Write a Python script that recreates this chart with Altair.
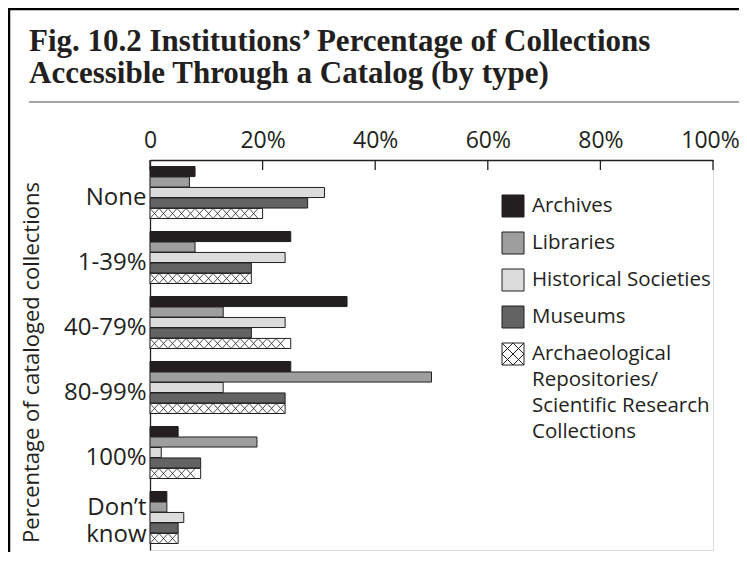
import altair as alt
import pandas as pd

# ---- data ----
categories = ["None", "1-39%", "40-79%", "80-99%", "100%", "Don’t\nknow"]
types = [
    "Archives",
    "Libraries",
    "Historical Societies",
    "Museums",
    "Archaeological\nRepositories/\nScientific Research\nCollections",
]
archives = [8, 25, 35, 25, 5, 3]
libraries = [7, 8, 13, 50, 19, 3]
historical = [31, 24, 24, 13, 2, 6]
museums = [28, 18, 18, 24, 9, 5]
archaeological = [20, 18, 25, 24, 9, 5]
tick_values = [0, 20, 40, 60, 80, 100]

title_lines = [
    "Fig. 10.2 Institutions’ Percentage of Collections",
    "Accessible Through a Catalog (by type)",
]
y_title = "Percentage of cataloged collections"

# ---- styles ----
fills = ["#231f20", "#9e9e9e", "#dcdcdc", "#636363", "#ffffff"]
square = "M-1,-1H1V1H-1Z"
hatch_square = "M-1,-1H1V1H-1Z M-1,-1L1,1 M1,-1L-1,1 M0,-1L1,0L0,1L-1,0Z"
legend_shapes = [square, square, square, square, hatch_square]
ink = "#231f20"
sans = "Open Sans"
serif = "Liberation Serif"
HATCH = 1.6  # hatch cell width in x-units

rows = []
for t, vals in zip(types, [archives, libraries, historical, museums, archaeological]):
    for c, v in zip(categories, vals):
        rows.append({"category": c, "type": t, "value": v})
df = pd.DataFrame(rows)
tick_df = pd.DataFrame({"tick": tick_values})
legend_df = pd.DataFrame({"type": types})
one = pd.DataFrame({"d": [0]})

x_scale = alt.Scale(domain=[0, 100], nice=False, zero=True)
x_axis = alt.Axis(
    orient="top", values=tick_values, title=None, grid=False, ticks=False,
    labelExpr="datum.value == 0 ? '0' : datum.value + '%'",
    labelFont=sans, labelFontSize=23, labelColor=ink, labelPadding=8,
    labelOffset={"condition": {"test": "datum.value == 100", "value": -3}, "value": 0},
    labelFlush=False, domainColor=ink, domainWidth=1.3,
)
y_scale = alt.Scale(domain=categories, paddingInner=0.2, paddingOuter=0.1)
y_enc = alt.Y(
    "category:N", sort=categories, scale=y_scale,
    axis=alt.Axis(
        title=y_title, titleFont=sans, titleFontSize=22, titleFontWeight="normal",
        titleColor=ink, titleAngle=-90, titleX=-119, titleY=202,
        titleAlign="center", titleBaseline="middle",
        labelFont=sans, labelFontSize=24, labelColor=ink, labelPadding=4,
        labelOffset={"condition": {"test": "indexof(datum.value, 'know') >= 0", "value": -10},
                     "value": 5},
        labelLimit=300, labelLineHeight=27,
        ticks=False, domainColor=ink, domainWidth=1.3,
    ),
)
yoff = alt.YOffset("type:N", sort=types, scale=alt.Scale(domain=types, paddingInner=0.04))
color_scale = alt.Scale(domain=types, range=fills)
shape_scale = alt.Scale(domain=types, range=legend_shapes)

bars = alt.Chart(df).mark_bar(stroke=ink, strokeWidth=1).encode(
    x=alt.X("value:Q", scale=x_scale, axis=x_axis),
    y=y_enc,
    yOffset=yoff,
    color=alt.Color("type:N", scale=color_scale, legend=None),
)

hatch = (
    alt.Chart(df)
    .transform_filter(alt.datum.type == types[4])
    .transform_calculate(k=f"sequence(0, floor(datum.value / {HATCH}))")
    .transform_flatten(["k"])
    .transform_calculate(hx=f"datum.k * {HATCH} + {HATCH / 2}")
    .mark_point(shape="M-0.9,-1L0.9,1M0.9,-1L-0.9,1", size=100, stroke=ink,
                strokeWidth=0.8, filled=False, opacity=1)
    .encode(x=alt.X("hx:Q", scale=x_scale, axis=x_axis), y=y_enc, yOffset=yoff)
)

ticks = alt.Chart(tick_df).mark_rule(color=ink, strokeWidth=1.3).encode(
    x=alt.X("tick:Q", scale=x_scale, axis=x_axis),
    y=alt.value(0), y2=alt.value(10),
)

main = alt.layer(bars, hatch, ticks)

# ---- legend (key) drawn from the type list through a point scale ----
leg_y = alt.Y("type:N", sort=types, axis=None,
              scale=alt.Scale(type="point", domain=types, range=[46, 194], padding=0))
leg_sym = alt.Chart(legend_df).mark_point(
    filled=True, size=484, stroke=ink, strokeWidth=1, opacity=1
).encode(
    x=alt.value(363), y=leg_y,
    color=alt.Color("type:N", scale=color_scale, legend=None),
    shape=alt.Shape("type:N", scale=shape_scale, legend=None),
)
leg_txt = alt.Chart(legend_df).mark_text(
    align="left", baseline="middle", font=sans, fontSize=20.5, color=ink,
    lineBreak="\n", lineHeight=26,
).encode(x=alt.value(382), y=leg_y, text="type:N")

title1 = alt.Chart(one).mark_text(
    text=title_lines[0], font=serif, fontSize=31, fontWeight="bold", color=ink,
    align="left", baseline="alphabetic",
).encode(x=alt.value(-121), y=alt.value(-109))
title2 = alt.Chart(one).mark_text(
    text=title_lines[1], font=serif, fontSize=31, fontWeight="bold", color=ink,
    align="left", baseline="alphabetic",
).encode(x=alt.value(-121), y=alt.value(-77))

sep = alt.Chart(one).mark_rule(color="#8a8a8a", strokeWidth=1.5).encode(
    x=alt.value(-121), x2=alt.value(589), y=alt.value(-58)
)
frame_top = alt.Chart(one).mark_rule(color="#000000", strokeWidth=2.5).encode(
    x=alt.value(-142), x2=alt.value(600), y=alt.value(-151)
)
frame_left = alt.Chart(one).mark_rule(color="#000000", strokeWidth=2.5).encode(
    x=alt.value(-141), y=alt.value(-152), y2=alt.value(400)
)

chart = (
    alt.layer(main, leg_sym, leg_txt, title1, title2, sep, frame_top, frame_left)
    .resolve_scale(y="independent")
    .properties(
        width=563, height=390,
        padding={"left": 142, "top": 152, "right": 26, "bottom": 2},
        autosize=alt.AutoSizeParams(type="none"),
    )
    .configure_view(stroke=None)
    .configure(background="white",
               style={"guide-label": {"lineHeight": 26, "lineBreak": "\n"}})
)

chart.save("out.html", embed_options={"renderer": "svg", "actions": False})
